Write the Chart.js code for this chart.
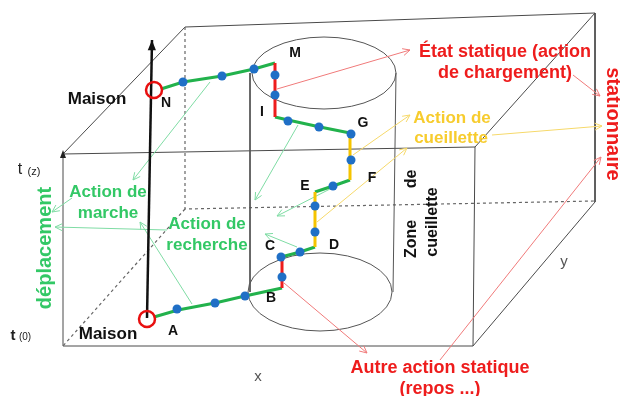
<!DOCTYPE html>
<html>
<head>
<meta charset="utf-8">
<script src="https://cdn.jsdelivr.net/npm/chart.js@4.4.1/dist/chart.umd.min.js"></script>
<style>
  body { margin: 0; background: #fff; }
  canvas { display: block; }
</style>
</head>
<body>
<canvas id="diagram" width="620" height="396"></canvas>
<script>
// Box edges (front face, back face, connecting edges)
const boxSolid = [
    [[63, 154], [475, 147], [473, 346], [63, 346], [63, 154]],
    [[63, 154], [185, 27], [595, 13], [595, 202]],
    [[475, 147], [595, 13]],
    [[473, 346], [595, 202]]
];
const boxDashed = [
    [[185, 27], [185, 209], [595, 201]],
    [[185, 209], [63, 346]]
];

// Cylinder (zone de cueillette)
const cylinderSides = [
    [[250, 73], [250, 292]],
    [[396, 73], [393, 292]]
];
const cylinderEllipses = [
    { cx: 324, cy: 73, rx: 72, ry: 36 },
    { cx: 320, cy: 292, rx: 72, ry: 39 }
];

// Trajectory: walking (green), static (red), picking (yellow)
const walkSegments = [
    [[161, 89], [183, 82], [222, 76], [254, 69], [275, 63]],
    [[275, 117], [288, 120], [320, 127], [350, 133]],
    [[350, 180], [333, 186], [315, 192]],
    [[315, 247], [300, 252], [281, 257]],
    [[282, 288], [245, 296], [215, 303], [178, 310], [154, 317]]
];
const staticSegments = [
    [[275, 63], [275, 117]],
    [[282, 257], [282, 288]]
];
const pickSegments = [
    [[350, 133], [350, 180]],
    [[315, 192], [315, 247]]
];
const blueDots = [
    [183, 82], [222, 76], [254, 69],
    [275, 75], [275, 95],
    [288, 121], [319, 127], [351, 134],
    [351, 160], [333, 186],
    [315, 206], [315, 232],
    [300, 252], [281, 257], [282, 277],
    [245, 296], [215, 303], [177, 309]
];
const homeCircles = [[147, 319], [154, 90]];
const timeArrow = [[147, 318], [152, 40]];

// Annotation arrows (from -> to)
const greenArrows = [
    [[210, 82], [133, 180]],
    [[298, 125], [255, 200]],
    [[330, 189], [277, 216]],
    [[297, 247], [265, 234]],
    [[72, 198], [52, 212]],
    [[167, 230], [55, 227]],
    [[192, 304], [140, 222]]
];
const redArrows = [
    [[277, 89], [410, 50]],
    [[573, 75], [600, 96]],
    [[284, 283], [367, 353]],
    [[440, 360], [601, 157]]
];
const yellowArrows = [
    [[353, 155], [410, 115]],
    [[317, 222], [407, 148]],
    [[492, 135], [602, 126]]
];

// Colours
const GREEN = '#22b24c';
const GREEN_TXT = '#33c866';
const GREEN_THIN = '#7fdca4';
const RED = '#ee1c1c';
const RED_THIN = '#f07a7a';
const YELLOW = '#f5c400';
const YELLOW_TXT = '#f7cc2e';
const YELLOW_THIN = '#f6d96a';
const BLUE = '#1f6fc6';
const FONT = '"Liberation Sans", Arial, sans-serif';

// Text labels
const labels = [
    { text: 'Maison', x: 97, y: 99, size: 17, bold: true, color: '#111' },
    { text: 'Maison', x: 108, y: 334, size: 17, bold: true, color: '#111' },
    { text: 'N', x: 166, y: 103, size: 14, bold: true, color: '#111' },
    { text: 'M', x: 295, y: 53, size: 14, bold: true, color: '#111' },
    { text: 'I', x: 262, y: 112, size: 14, bold: true, color: '#111' },
    { text: 'G', x: 363, y: 123, size: 14, bold: true, color: '#111' },
    { text: 'F', x: 372, y: 178, size: 14, bold: true, color: '#111' },
    { text: 'E', x: 305, y: 186, size: 14, bold: true, color: '#111' },
    { text: 'D', x: 334, y: 245, size: 14, bold: true, color: '#111' },
    { text: 'C', x: 270, y: 246, size: 14, bold: true, color: '#111' },
    { text: 'B', x: 271, y: 298, size: 14, bold: true, color: '#111' },
    { text: 'A', x: 173, y: 331, size: 14, bold: true, color: '#111' },
    { text: 't', x: 20, y: 170, size: 16, bold: false, color: '#222' },
    { text: '(z)', x: 34, y: 172, size: 11, bold: false, color: '#222' },
    { text: 't', x: 13, y: 336, size: 15, bold: true, color: '#222' },
    { text: '(0)', x: 25, y: 337, size: 10, bold: false, color: '#222' },
    { text: 'Action de', x: 108, y: 192, size: 17, bold: true, color: GREEN_TXT },
    { text: 'marche', x: 108, y: 213, size: 17, bold: true, color: GREEN_TXT },
    { text: 'Action de', x: 207, y: 224, size: 17, bold: true, color: GREEN_TXT },
    { text: 'recherche', x: 207, y: 245, size: 17, bold: true, color: GREEN_TXT },
    { text: 'déplacement', x: 45, y: 248, size: 20, bold: true, color: GREEN_TXT, rot: -90 },
    { text: 'État statique (action', x: 505, y: 52, size: 18, bold: true, color: RED },
    { text: 'de chargement)', x: 505, y: 73, size: 18, bold: true, color: RED },
    { text: 'stationnaire', x: 613, y: 124, size: 20, bold: true, color: RED, rot: 90 },
    { text: 'Action de', x: 452, y: 118, size: 17, bold: true, color: YELLOW_TXT },
    { text: 'cueillette', x: 451, y: 138, size: 17, bold: true, color: YELLOW_TXT },
    { text: 'Zone', x: 412, y: 239, size: 16, bold: true, color: '#111', rot: -90 },
    { text: 'de', x: 412, y: 179, size: 16, bold: true, color: '#111', rot: -90 },
    { text: 'cueillette', x: 433, y: 222, size: 16, bold: true, color: '#111', rot: -90 },
    { text: 'Autre action statique', x: 440, y: 368, size: 18, bold: true, color: RED },
    { text: '(repos ...)', x: 440, y: 389, size: 18, bold: true, color: RED },
    { text: 'x', x: 258, y: 377, size: 15, bold: false, color: '#555' },
    { text: 'y', x: 564, y: 262, size: 15, bold: false, color: '#555' }
];

const toPts = arr => arr.map(([x, y]) => ({ x, y }));

function lineSet(points, color, width, dash) {
    return {
        data: toPts(points),
        showLine: true,
        borderColor: color,
        borderWidth: width,
        borderDash: dash || [],
        pointRadius: 0,
        fill: false,
        tension: 0,
        clip: false
    };
}

// Datasets pushed bottom-to-top
const datasets = [];
boxSolid.forEach(p => datasets.push(lineSet(p, '#4a4a4a', 1)));
boxDashed.forEach(p => datasets.push(lineSet(p, '#666', 1.2, [3, 3])));
cylinderSides.forEach(p => datasets.push(lineSet(p, '#555', 1)));
greenArrows.forEach(p => datasets.push(Object.assign(lineSet(p, GREEN_THIN, 1), { arrow: 'open' })));
redArrows.forEach(p => datasets.push(Object.assign(lineSet(p, RED_THIN, 1), { arrow: 'open' })));
yellowArrows.forEach(p => datasets.push(Object.assign(lineSet(p, YELLOW_THIN, 1), { arrow: 'open' })));
datasets.push(Object.assign(lineSet(timeArrow, '#111', 2.5), { arrow: 'filled' }));
walkSegments.forEach(p => datasets.push(lineSet(p, GREEN, 3)));
staticSegments.forEach(p => datasets.push(lineSet(p, RED, 3)));
pickSegments.forEach(p => datasets.push(lineSet(p, YELLOW, 3)));
datasets.push({
    data: toPts(blueDots), showLine: false, pointRadius: 4.5,
    backgroundColor: BLUE, borderWidth: 0, clip: false
});
datasets.push({
    data: toPts(homeCircles), showLine: false, pointRadius: 8,
    backgroundColor: 'rgba(0,0,0,0)', borderColor: '#e81010', borderWidth: 2.5, clip: false
});
datasets.forEach((d, i) => d.order = datasets.length - i);

// Plugin: ellipses, arrow heads and texts
const diagramPlugin = {
    id: 'diagram',
    beforeDatasetsDraw(chart) {
        const { ctx, scales: { x, y } } = chart;
        ctx.save();
        ctx.strokeStyle = '#555';
        ctx.lineWidth = 1;
        cylinderEllipses.forEach(e => {
            const cx = x.getPixelForValue(e.cx), cy = y.getPixelForValue(e.cy);
            const rx = Math.abs(x.getPixelForValue(e.cx + e.rx) - cx);
            const ry = Math.abs(y.getPixelForValue(e.cy + e.ry) - cy);
            ctx.beginPath();
            ctx.ellipse(cx, cy, rx, ry, 0, 0, Math.PI * 2);
            ctx.stroke();
        });
        ctx.restore();
    },
    afterDatasetsDraw(chart) {
        const { ctx, scales: { x, y } } = chart;
        ctx.save();
        chart.data.datasets.forEach(ds => {
            if (!ds.arrow) return;
            const n = ds.data.length;
            const p0 = ds.data[n - 2], p1 = ds.data[n - 1];
            const x0 = x.getPixelForValue(p0.x), y0 = y.getPixelForValue(p0.y);
            const x1 = x.getPixelForValue(p1.x), y1 = y.getPixelForValue(p1.y);
            const a = Math.atan2(y1 - y0, x1 - x0);
            if (ds.arrow === 'filled') {
                const len = 11, w = 0.38;
                ctx.fillStyle = ds.borderColor;
                ctx.beginPath();
                ctx.moveTo(x1, y1);
                ctx.lineTo(x1 - len * Math.cos(a - w), y1 - len * Math.sin(a - w));
                ctx.lineTo(x1 - len * Math.cos(a + w), y1 - len * Math.sin(a + w));
                ctx.closePath();
                ctx.fill();
            } else {
                const len = 8, w = 0.45;
                ctx.strokeStyle = ds.borderColor;
                ctx.lineWidth = 1;
                ctx.beginPath();
                ctx.moveTo(x1 - len * Math.cos(a - w), y1 - len * Math.sin(a - w));
                ctx.lineTo(x1, y1);
                ctx.lineTo(x1 - len * Math.cos(a + w), y1 - len * Math.sin(a + w));
                ctx.stroke();
            }
        });
        // small arrow head on the left t axis
        ctx.fillStyle = '#222';
        const ax = x.getPixelForValue(63), ay = y.getPixelForValue(150);
        ctx.beginPath();
        ctx.moveTo(ax, ay);
        ctx.lineTo(ax - 3, ay + 8);
        ctx.lineTo(ax + 3, ay + 8);
        ctx.closePath();
        ctx.fill();

        ctx.textAlign = 'center';
        ctx.textBaseline = 'middle';
        labels.forEach(l => {
            ctx.save();
            ctx.translate(x.getPixelForValue(l.x), y.getPixelForValue(l.y));
            if (l.rot) ctx.rotate(l.rot * Math.PI / 180);
            ctx.font = (l.bold ? 'bold ' : '') + l.size + 'px ' + FONT;
            ctx.fillStyle = l.color;
            ctx.fillText(l.text, 0, 0);
            ctx.restore();
        });
        ctx.restore();
    }
};

new Chart(document.getElementById('diagram'), {
    type: 'scatter',
    data: { datasets: datasets },
    options: {
        responsive: false,
        devicePixelRatio: 1,
        animation: false,
        layout: { padding: 0, autoPadding: false },
        plugins: { legend: { display: false }, tooltip: { enabled: false } },
        scales: {
            x: { type: 'linear', min: 0, max: 620, display: false },
            y: { type: 'linear', min: 0, max: 396, reverse: true, display: false }
        }
    },
    plugins: [diagramPlugin]
});
</script>
</body>
</html>
